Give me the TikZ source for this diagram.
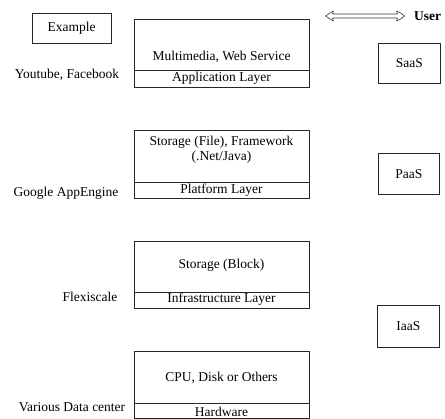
\documentclass[tikz,border=0pt]{standalone}
\usepackage{fontspec}
\setmainfont{Liberation Serif}
\usetikzlibrary{arrows.meta}
\begin{document}
\begin{tikzpicture}[x=1pt,y=1pt,
  box/.style={draw=black!85, line width=0.8pt, anchor=north west, inner sep=0pt},
  txt/.style={font=\fontsize{13.5}{15}\selectfont, inner sep=0pt},
  sep/.style={draw=black!85, line width=0.8pt},
  hollowarrow/.style={draw=black!80, line width=0.6pt, line join=round}]
\useasboundingbox (0,0) rectangle (445,419);
% left example box
\node[box, minimum width=79pt, minimum height=30pt] (ex) at (32,406) {};
\node[txt] (extxt) at (71.5,391) {Example};
% layer boxes
\node[box, minimum width=175pt, minimum height=68pt] (app) at (134,400) {};
\node[box, minimum width=175pt, minimum height=68pt] (plat) at (134,289) {};
\node[box, minimum width=175pt, minimum height=67pt] (infra) at (134,178) {};
\node[box, minimum width=175pt, minimum height=67pt] (hw) at (134,68) {};
\draw[sep] (app.west |- 0,349) coordinate (a1) -- (app.east |- 0,349) coordinate (a2);
\draw[sep] (plat.west |- 0,237) coordinate (p1) -- (plat.east |- 0,237) coordinate (p2);
\draw[sep] (infra.west |- 0,127) coordinate (i1) -- (infra.east |- 0,127) coordinate (i2);
\draw[sep] (hw.west |- 0,16) coordinate (h1) -- (hw.east |- 0,16) coordinate (h2);
\node[txt] (apptxt) at (221.5,362) {Multimedia, Web Service};
\node[txt] (applbl) at (221.5,340.5) {Application Layer};
\node[txt, align=center] (plattxt) at (221.5,269) {Storage (File), Framework\\(.Net/Java)};
\node[txt] (platlbl) at (221.5,229) {Platform Layer};
\node[txt] (infratxt) at (221.5,154) {Storage (Block)};
\node[txt] (infralbl) at (221.5,120) {Infrastructure Layer};
\node[txt] (hwtxt) at (221.5,41) {CPU, Disk or Others};
\node[txt] (hwlbl) at (221.5,7.5) {Hardware};
% left examples
\node[txt] (yt) at (67,344) {Youtube, Facebook};
\node[txt] (gae) at (66,226) {Google AppEngine};
\node[txt] (flex) at (90,122) {Flexiscale};
\node[txt] (vdc) at (72,12) {Various Data center};
% right service boxes
\node[box, minimum width=62pt, minimum height=40pt] (saas) at (378,376) {};
\node[txt] at (saas.center) {SaaS};
\node[box, minimum width=61pt, minimum height=41pt] (paas) at (378,266) {};
\node[txt] at (paas.center) {PaaS};
\node[box, minimum width=62pt, minimum height=42pt] (iaas) at (377,114) {};
\node[txt] at (iaas.center) {IaaS};
% user arrow (hollow double-headed arrow)
\node[txt, font=\fontsize{13.5}{15}\selectfont\bfseries, anchor=west] (user) at (414,403) {User};
\coordinate (al) at (325.5,403);
\coordinate (ar) at (404.5,403);
\draw[hollowarrow] (al) .. controls (329,405) and (331,407) .. ([shift={(8,5)}]al)
  -- ([shift={(7,2)}]al) -- ([shift={(-7,2)}]ar) -- ([shift={(-8,5)}]ar)
  .. controls (400,407) and (402,405) .. (ar)
  .. controls (402,401) and (400,399) .. ([shift={(-8,-5)}]ar)
  -- ([shift={(-7,-2)}]ar) -- ([shift={(7,-2)}]al) -- ([shift={(8,-5)}]al)
  .. controls (331,399) and (329,401) .. (al) -- cycle;
\end{tikzpicture}
\end{document}
